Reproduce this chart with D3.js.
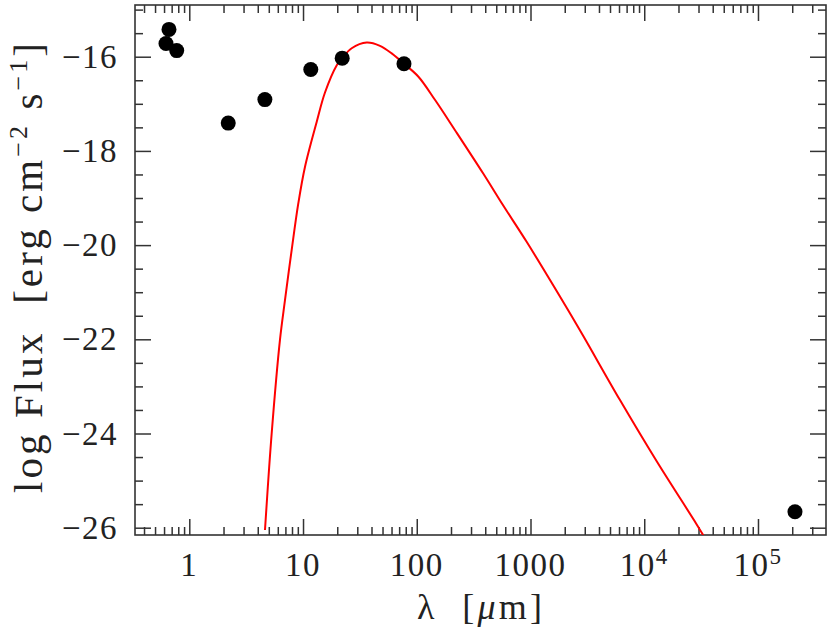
<!DOCTYPE html>
<html>
<head>
<meta charset="utf-8">
<script src="https://cdn.jsdelivr.net/npm/d3@7"></script>
<style>
  body { margin: 0; background: #fff; }
  svg text { font-family: "Liberation Serif", "Times New Roman", serif; fill: #222; white-space: pre; }
</style>
</head>
<body>
<div id="chart"></div>
<script>
// observed photometry
const obsLambda = [0.624, 0.663, 0.775, 2.2, 4.62, 11.7, 22.1, 77.2, 2.115e5];
const obsLogFlux = [-15.72, -15.42, -15.87, -17.41, -16.91, -16.27, -16.03, -16.15, -25.66];

// model curve
const modelLambda = [4.63, 5.30, 6.27, 6.94, 7.95, 9.08, 10.4, 13.2, 15.6, 19.8, 22.1, 26.8, 36.3, 47.5, 60.2, 77.2, 103, 145, 217, 384, 576, 925, 2080, 2911, 6120, 12870, 28920, 33040];
const modelLogFlux = [-26.05, -24.00, -22.01, -21.17, -20.10, -19.12, -18.34, -17.38, -16.76, -16.18, -16.03, -15.82, -15.70, -15.77, -15.93, -16.15, -16.42, -16.92, -17.56, -18.48, -19.16, -19.93, -21.33, -21.93, -23.29, -24.59, -25.93, -26.16];

const xMajor = [1, 10, 100, 1000, 1e4, 1e5];
const xMajorLabels = ["1", "10", "100", "1000", "10^4", "10^5"];
const yMajor = [-16, -18, -20, -22, -24, -26];

const width = 830, height = 633;
const margin = {top: 5, right: 4, bottom: 98, left: 135};
const w = width - margin.left - margin.right;
const h = height - margin.top - margin.bottom;

const svg = d3.select("#chart").append("svg").attr("width", width).attr("height", height);
const g = svg.append("g").attr("transform", `translate(${margin.left},${margin.top})`);

const x = d3.scaleLog().domain([0.3332, 3.963e5]).range([0, w]);
const y = d3.scaleLinear().domain([-26.155, -14.902]).range([h, 0]);

// minor ticks
let xMinor = [];
for (let e = -1; e <= 5; e++) {
  for (let m = 2; m <= 9; m++) {
    const v = m * Math.pow(10, e);
    if (v > x.domain()[0] && v < x.domain()[1]) xMinor.push(v);
  }
}
let yMinor = [];
for (let v = -26; v <= -15; v += 0.5) if (!yMajor.includes(v)) yMinor.push(v);

const tickColor = "#333";
const styleAxis = (sel) => {
  sel.select(".domain").remove();
  sel.selectAll("line").attr("stroke", tickColor).attr("stroke-width", 1.5);
};

g.append("g").attr("transform", `translate(0,${h})`)
  .call(d3.axisBottom(x).tickValues(xMinor).tickSize(-8).tickFormat("")).call(styleAxis);
g.append("g")
  .call(d3.axisTop(x).tickValues(xMinor).tickSize(-8).tickFormat("")).call(styleAxis);
g.append("g").attr("transform", `translate(0,${h})`)
  .call(d3.axisBottom(x).tickValues(xMajor).tickSize(-16).tickFormat("")).call(styleAxis);
g.append("g")
  .call(d3.axisTop(x).tickValues(xMajor).tickSize(-16).tickFormat("")).call(styleAxis);

g.append("g")
  .call(d3.axisLeft(y).tickValues(yMinor).tickSize(-8).tickFormat("")).call(styleAxis);
g.append("g").attr("transform", `translate(${w},0)`)
  .call(d3.axisRight(y).tickValues(yMinor).tickSize(-8).tickFormat("")).call(styleAxis);
const yAxisL = g.append("g")
  .call(d3.axisLeft(y).tickValues(yMajor).tickSize(-16).tickPadding(17)
    .tickFormat(d => "\u2212" + Math.abs(d))).call(styleAxis);
g.append("g").attr("transform", `translate(${w},0)`)
  .call(d3.axisRight(y).tickValues(yMajor).tickSize(-16).tickFormat("")).call(styleAxis);

yAxisL.selectAll("text")
  .attr("font-size", 33).attr("letter-spacing", 1.5).attr("fill", "#222");

// x tick labels with superscripts
const xl = g.append("g").attr("transform", `translate(0,${h})`);
xMajor.forEach((v, i) => {
  const t = xl.append("text")
    .attr("x", x(v)).attr("y", 41)
    .attr("text-anchor", "middle")
    .attr("font-size", 33).attr("letter-spacing", 1.5);
  const lab = xMajorLabels[i];
  if (lab.includes("^")) {
    const [base, sup] = lab.split("^");
    t.append("tspan").text(base);
    t.append("tspan").attr("dy", -12).attr("font-size", 23).text(sup);
  } else {
    t.text(lab);
  }
});

// frame
g.append("rect").attr("width", w).attr("height", h)
  .attr("fill", "none").attr("stroke", tickColor).attr("stroke-width", 1.6);

svg.append("clipPath").attr("id", "plot-clip")
  .append("rect").attr("width", w).attr("height", h);

const model = modelLambda.map((l, i) => [l, modelLogFlux[i]]);
const line = d3.line()
  .x(d => x(d[0]))
  .y(d => y(d[1]))
  .curve(d3.curveCatmullRom.alpha(0.5));

g.append("path").datum(model)
  .attr("clip-path", "url(#plot-clip)")
  .attr("d", line)
  .attr("fill", "none").attr("stroke", "#f00").attr("stroke-width", 2);

g.selectAll("circle.obs").data(obsLambda.map((l, i) => [l, obsLogFlux[i]]))
  .enter().append("circle")
  .attr("class", "obs")
  .attr("cx", d => x(d[0])).attr("cy", d => y(d[1]))
  .attr("r", 7.5).attr("fill", "#000");

// axis titles
const xt = svg.append("text")
  .attr("x", 417).attr("y", 619)
  .attr("font-size", 36)
  .attr("textLength", 125).attr("lengthAdjust", "spacing");
xt.append("tspan").text("\u03bb  [");
xt.append("tspan").attr("font-style", "italic").text("\u03bc");
xt.append("tspan").text("m]");

const yt = svg.append("text")
  .attr("transform", `translate(42,493) rotate(-90)`)
  .attr("font-size", 41)
  .attr("textLength", 450).attr("lengthAdjust", "spacing");
yt.append("tspan").text("log Flux  [erg cm");
yt.append("tspan").attr("dy", -15).attr("font-size", 26).text("\u22122");
yt.append("tspan").attr("dy", 15).text(" s");
yt.append("tspan").attr("dy", -15).attr("font-size", 26).text("\u22121");
yt.append("tspan").attr("dy", 15).text("]");
</script>
</body>
</html>
